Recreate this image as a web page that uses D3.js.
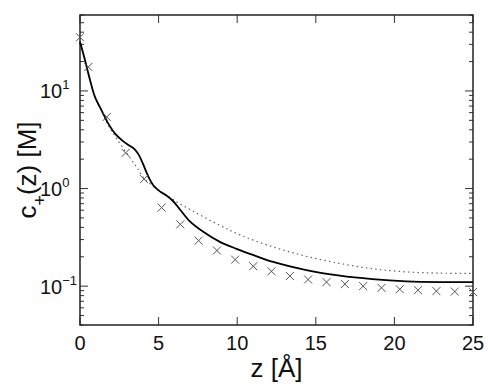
<!DOCTYPE html>
<html><head><meta charset="utf-8">
<script src="https://cdn.jsdelivr.net/npm/d3@7"></script>
<style>html,body{margin:0;padding:0;background:#fff;}svg{display:block;font-family:"Liberation Sans",Arial,sans-serif;}</style>
</head><body>
<svg id="c" width="488" height="386"></svg>
<script>
const crossZ = [0, 0.53, 1.7, 2.9, 4.07, 5.19, 6.38, 7.55, 8.71, 9.87, 11.02, 12.18, 13.35, 14.51, 15.68, 16.85, 18.01, 19.18, 20.34, 21.5, 22.67, 23.84, 25];
const crossC = [35.5, 17.6, 5.42, 2.32, 1.25, 0.638, 0.43, 0.293, 0.232, 0.187, 0.160, 0.142, 0.127, 0.117, 0.110, 0.105, 0.100, 0.096, 0.093, 0.091, 0.089, 0.088, 0.087];
const solidZ = [0, 0.32, 0.64, 0.95, 1.38, 1.8, 2.23, 2.7, 3.1, 3.45, 3.75, 4.0, 4.3, 4.66, 5.1, 5.5, 5.9, 6.36, 6.99, 7.84, 8.9, 10.0, 11.0, 12.29, 14.4, 16.53, 18.6, 20.77, 22.9, 25];
const solidC = [32, 20.6, 12.9, 8.7, 6.3, 4.63, 3.66, 3.1, 2.78, 2.55, 2.2, 1.80, 1.38, 1.08, 0.93, 0.85, 0.75, 0.61, 0.46, 0.36, 0.284, 0.24, 0.209, 0.177, 0.146, 0.128, 0.118, 0.112, 0.110, 0.110];
const dotZ = [0, 0.32, 0.64, 0.95, 1.38, 1.8, 2.33, 3.07, 3.6, 4.02, 4.98, 5.83, 6.15, 7.42, 8.9, 10.17, 12.29, 14.4, 16.53, 18.6, 20.77, 22.9, 25];
const dotC = [32, 20.6, 12.9, 8.7, 6.2, 4.45, 3.25, 2.19, 1.66, 1.31, 0.96, 0.79, 0.73, 0.56, 0.42, 0.335, 0.252, 0.202, 0.171, 0.151, 0.140, 0.136, 0.135];
const xTicks = [0, 5, 10, 15, 20, 25];
const yMajor = [0.1, 1, 10];
const yExp = ["\u22121", "0", "1"];

const L = 80, R = 473, T = 15, B = 325;
const svg = d3.select("#c");
const x = d3.scaleLinear().domain([0, 25]).range([L, R]);
const y = d3.scaleLog().domain([0.04, 60]).range([B, T]);

const minor = [];
for (const dec of [0.01, 0.1, 1, 10]) for (let k = 2; k <= 9; k++) { const v = dec * k; if (v >= 0.04 && v <= 60) minor.push(v); }

const g = svg.append("g").attr("stroke", "#333").attr("stroke-width", 1);
yMajor.forEach(v => {
  g.append("line").attr("x1", L).attr("x2", L + 8).attr("y1", y(v)).attr("y2", y(v));
  g.append("line").attr("x1", R).attr("x2", R - 8).attr("y1", y(v)).attr("y2", y(v));
});
minor.forEach(v => {
  g.append("line").attr("x1", L).attr("x2", L + 4).attr("y1", y(v)).attr("y2", y(v));
  g.append("line").attr("x1", R).attr("x2", R - 4).attr("y1", y(v)).attr("y2", y(v));
});
xTicks.forEach(v => {
  g.append("line").attr("x1", x(v)).attr("x2", x(v)).attr("y1", B).attr("y2", B - 8);
  g.append("line").attr("x1", x(v)).attr("x2", x(v)).attr("y1", T).attr("y2", T + 8);
});
svg.append("rect").attr("x", L).attr("y", T).attr("width", R - L).attr("height", B - T)
  .attr("fill", "none").attr("stroke", "#222").attr("stroke-width", 1.5);

svg.append("g").selectAll("text").data(xTicks).join("text")
  .attr("x", d => x(d)).attr("y", 350).attr("text-anchor", "middle")
  .attr("font-size", 20).attr("fill", "#111").text(d => d);
yMajor.forEach((v, i) => {
  const t = svg.append("text").attr("x", 40).attr("y", y(v) + 7.5).attr("font-size", 20).attr("fill", "#111");
  t.append("tspan").text("10");
  t.append("tspan").attr("dy", -9).attr("font-size", 13).text(yExp[i]);
});

svg.append("text").attr("x", (L + R) / 2).attr("y", 377).attr("text-anchor", "middle")
  .attr("font-size", 26).attr("fill", "#111").text("z [\u00c5]");
const yt = svg.append("text").attr("transform", `translate(36,${(T + B) / 2}) rotate(-90)`)
  .attr("text-anchor", "middle").attr("font-size", 26).attr("fill", "#111");
yt.append("tspan").text("c");
yt.append("tspan").attr("dy", 10).attr("font-size", 18).text("+");
yt.append("tspan").attr("dy", -10).text("(z) [M]");

const line = d3.line().x(d => x(d[0])).y(d => y(d[1])).curve(d3.curveCatmullRom.alpha(0.5));
svg.append("path").datum(dotZ.map((z, i) => [z, dotC[i]])).attr("d", line)
  .attr("fill", "none").attr("stroke", "#666").attr("stroke-width", 1.2).attr("stroke-dasharray", "1.5,3.2");
svg.append("path").datum(solidZ.map((z, i) => [z, solidC[i]])).attr("d", line)
  .attr("fill", "none").attr("stroke", "#000").attr("stroke-width", 1.8);

const s = 4;
const cg = svg.append("g").attr("stroke", "#555").attr("stroke-width", 1);
crossZ.forEach((z, i) => {
  const cx = x(z), cy = y(crossC[i]);
  cg.append("path").attr("d", `M${cx - s},${cy - s}L${cx + s},${cy + s}M${cx - s},${cy + s}L${cx + s},${cy - s}`);
});
</script>
</body></html>
